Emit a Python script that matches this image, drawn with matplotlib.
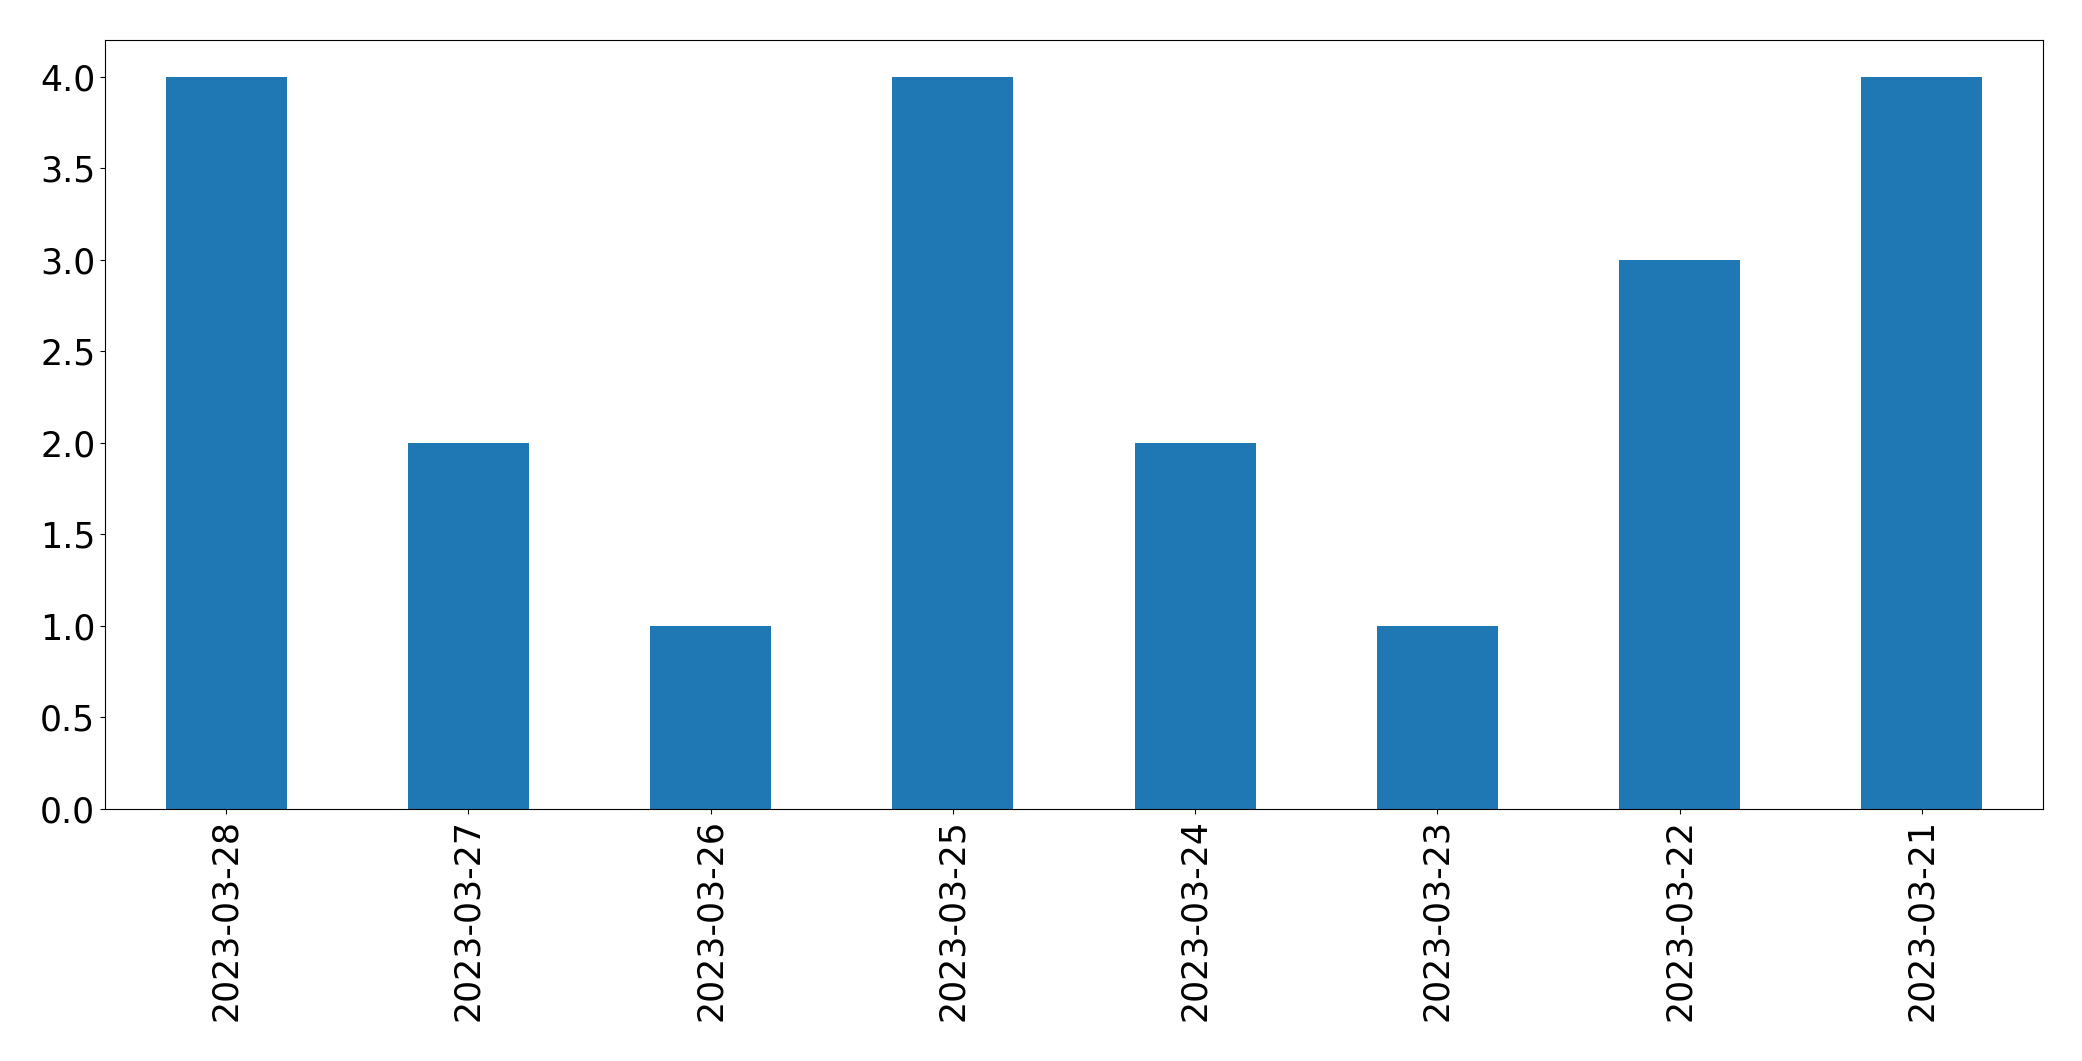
import matplotlib
matplotlib.use("Agg")
import matplotlib.pyplot as plt

dates = ["2023-03-28", "2023-03-27", "2023-03-26", "2023-03-25",
         "2023-03-24", "2023-03-23", "2023-03-22", "2023-03-21"]
counts = [4, 2, 1, 4, 2, 1, 3, 4]

fig = plt.figure(figsize=(20.82, 10.61), dpi=100)
ax = fig.add_axes([105/2082, 1 - 809/1061, (2043-105)/2082, (809-40)/1061])
x = range(len(dates))
ax.bar(x, counts, width=0.5, color="#1f77b4")
ax.set_xticks(list(x))
ax.set_xticklabels(dates, rotation=90)
ax.set_xlim(-0.5, len(dates) - 0.5)
ax.set_yticks([0, 0.5, 1, 1.5, 2, 2.5, 3, 3.5, 4])
ax.set_yticklabels([f"{v:.1f}" for v in [0, 0.5, 1, 1.5, 2, 2.5, 3, 3.5, 4]])
ax.set_ylim(0, 4.2)
ax.tick_params(labelsize=25)
fig.savefig("out.png", dpi=100)
